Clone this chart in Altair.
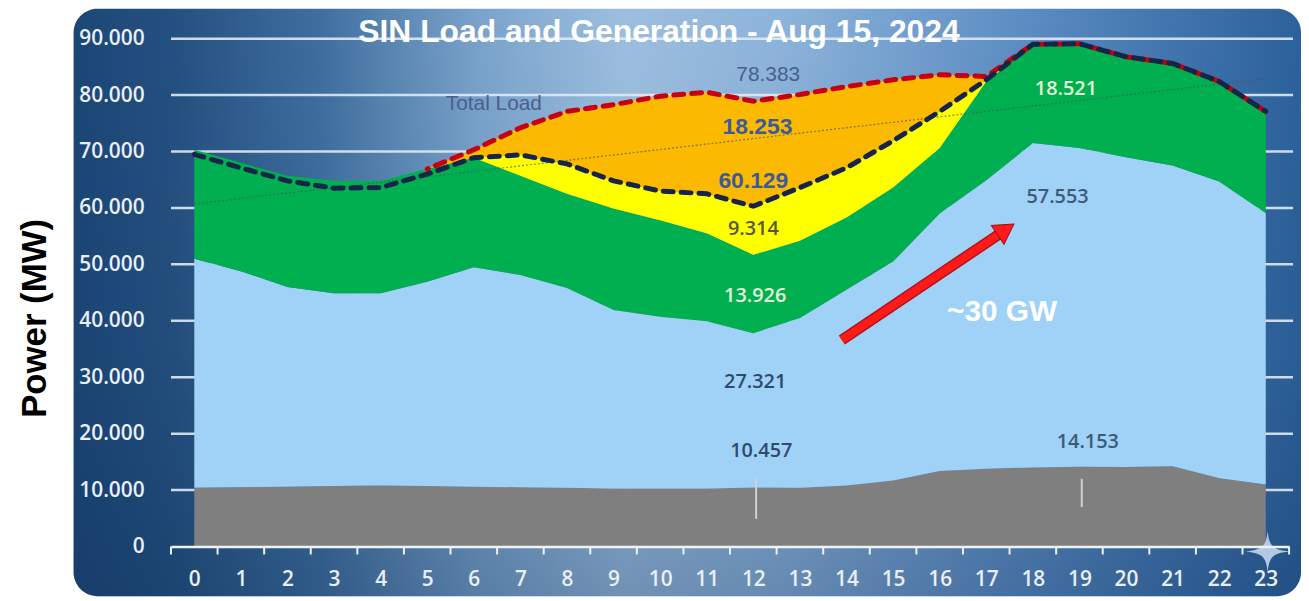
import altair as alt
import pandas as pd

# ---------------- data (MW) ----------------
hours = list(range(24))
gray_top = [10400, 10500, 10600, 10700, 10800, 10700, 10600, 10500, 10400, 10300, 10300, 10300,
            10460, 10400, 10800, 11700, 13400, 13800, 14000, 14150, 14100, 14200, 12100, 11000]
blue_top = [51000, 48800, 46000, 44900, 44900, 46900, 49500, 48100, 45800, 41900, 40700, 39900,
            37800, 40500, 45500, 50500, 59000, 64900, 71500, 70600, 69000, 67500, 64700, 59100]
green_top = [70300, 68000, 65700, 64800, 64800, 66900, 68900, 65700, 62500, 59900, 57800, 55500,
             51700, 54200, 58300, 63600, 70600, 82400, 89000, 89100, 86800, 85600, 82400, 77100]
yellow_top = [70300, 68000, 65700, 64800, 64800, 66900, 68900, 69400, 67800, 64800, 63000, 62500,
              60300, 63600, 67100, 71900, 77100, 82700, 89000, 89100, 86800, 85600, 82400, 77100]
orange_top = [70300, 68000, 65700, 64800, 64800, 66900, 70300, 74200, 77100, 78300, 79800, 80500,
              78900, 80100, 81500, 82700, 83600, 83300, 89000, 89100, 86800, 85600, 82400, 77100]
gen_line = [69500, 67100, 64800, 63500, 63600, 66000, 68900, 69400, 67800, 64800, 63000, 62500,
            60300, 63600, 67100, 71900, 77100, 82700, 89000, 89100, 86800, 85600, 82400, 77100]
load_hours = list(range(5, 24))
load_line = [66900, 70300, 74200, 77100, 78300, 79800, 80500, 78900, 80100, 81500, 82700, 83600,
             83300, 89000, 89100, 86800, 85600, 82400, 77100]
trend_hours = [0, 23]
trend_values = [60700, 82900]

y_ticks = [0, 10000, 20000, 30000, 40000, 50000, 60000, 70000, 80000, 90000]
x_tick_pos = [h - 0.5 for h in range(25)]

series_names = ["Thermal", "Hydro", "Wind", "Solar", "Deficit"]
series_colors = ["#7f7f7f", "#a0d1f7", "#00b050", "#ffff00", "#fbb900"]

title_text = ["SIN Load and Generation - Aug 15, 2024"]

# value labels: text, hour, MW, color
lab_narrow_txt = ["78.383", "Total Load"]
lab_narrow_x = [12.32, 6.43]
lab_narrow_y = [83500, 78500]
lab_bold_txt = ["18.253", "60.129"]
lab_bold_x = [12.09, 12.0]
lab_bold_y = [74300, 64800]
lab_round_txt = ["9.314", "13.926", "27.321", "10.457", "18.521", "57.553", "14.153"]
lab_round_x = [12.0, 12.04, 12.04, 12.17, 18.71, 18.53, 19.18]
lab_round_y = [56200, 44400, 29100, 16900, 81000, 62000, 18500]
lab_round_col = ["#55583a", "#e4f4d8", "#2d4b6b", "#2d4b6b", "#e4f4d8", "#3d5b78", "#3d5b78"]

arrow_x = [13.90, 17.34]
arrow_y = [36600, 55700]
arrow_head_x = [17.42]
arrow_head_y = [56200]
gw_text = ["~30 GW"]
gw_x = [17.34]
gw_y = [41600]

leader_x = [12.06, 19.05]
leader_y1 = [4900, 7000]
leader_y2 = [12300, 12000]

# ---------------- layout ----------------
W, H = 1125, 511
xs = alt.Scale(domain=[-0.5, 23.5], nice=False, zero=False)
ys = alt.Scale(domain=[0, 90000], nice=False, zero=True)

LABEL_FONT = "Open Sans"
NARROW = "Liberation Sans Narrow, Arial Narrow, Liberation Sans"

x_axis = alt.Axis(values=hours, labelFont=LABEL_FONT, labelFontSize=21, labelFontWeight=600,
                  labelColor="#e9eff6", ticks=False, tickSize=0, domain=True,
                  domainColor="#eef3f8", domainWidth=2.5, grid=False, labelPadding=22,
                  title=None, zindex=1, labelFlush=False)
y_axis = alt.Axis(values=y_ticks, labelExpr="replace(format(datum.value, ','), ',', '.')",
                  labelFont=LABEL_FONT, labelFontSize=21, labelFontWeight=600,
                  labelColor="#e9eff6", ticks=False, tickSize=0, domain=False, grid=False,
                  labelPadding=27, title="Power (MW)", titleFont="Liberation Sans",
                  titleFontSize=35, titleFontWeight="bold", titleColor="black",
                  titleAngle=270, titleX=-137, titleY=281, titleAlign="center",
                  titleBaseline="middle", zindex=1, labelFlush=False)

one = pd.DataFrame({"a": [0]})

bg_grad = {"gradient": "linear", "x1": 0, "y1": 0, "x2": 1, "y2": 0,
           "stops": [{"offset": 0.0, "color": "#1c4676"},
                     {"offset": 0.08, "color": "#24507f"},
                     {"offset": 0.2, "color": "#3f6e9e"},
                     {"offset": 0.33, "color": "#7aa3cb"},
                     {"offset": 0.45, "color": "#9dbfdf"},
                     {"offset": 0.58, "color": "#8cb3da"},
                     {"offset": 0.78, "color": "#5a8bc2"},
                     {"offset": 1.0, "color": "#2c619b"}]}
shade_grad = {"gradient": "linear", "x1": 0, "y1": 0, "x2": 0, "y2": 1,
              "stops": [{"offset": 0.0, "color": "rgba(10,40,80,0)"},
                        {"offset": 0.6, "color": "rgba(10,40,80,0.08)"},
                        {"offset": 1.0, "color": "rgba(10,40,80,0.3)"}]}

panel = alt.Chart(one).mark_rect(fill=bg_grad, cornerRadius=24).encode(
    x=alt.value(-98), x2=alt.value(1137), y=alt.value(-30), y2=alt.value(561))
shade = alt.Chart(one).mark_rect(fill=shade_grad, cornerRadius=24).encode(
    x=alt.value(-98), x2=alt.value(1137), y=alt.value(-30), y2=alt.value(561))

grid = alt.Chart(pd.DataFrame({"v": y_ticks[1:]})).mark_rule(
    color="#dfe9f3", strokeWidth=2.5, opacity=0.9).encode(
    y=alt.Y("v:Q", scale=ys, axis=y_axis), x=alt.value(0), x2=alt.value(W + 4))

# stacked bands as explicit bottom/top
rows = []
bottoms = [[0] * 24, gray_top, blue_top, green_top, yellow_top]
tops = [gray_top, blue_top, green_top, yellow_top, orange_top]
for name, lo, hi in zip(series_names, bottoms, tops):
    for h, a, b in zip(hours, lo, hi):
        rows.append({"hour": h, "series": name, "lo": a, "hi": b})
area_df = pd.DataFrame(rows)

areas = alt.Chart(area_df).mark_area(interpolate="linear", opacity=1).encode(
    x=alt.X("hour:Q", scale=xs, axis=x_axis),
    y=alt.Y("hi:Q", scale=ys, stack=None),
    y2="lo:Q",
    color=alt.Color("series:N", scale=alt.Scale(domain=series_names, range=series_colors),
                    legend=None))

ticks = alt.Chart(pd.DataFrame({"t": x_tick_pos})).mark_rule(
    color="#eef3f8", strokeWidth=2).encode(
    x=alt.X("t:Q", scale=xs), y=alt.value(H), y2=alt.value(H + 8))

trend = alt.Chart(pd.DataFrame({"hour": trend_hours, "v": trend_values})).mark_line(
    color="#4a5563", strokeWidth=1.2, strokeDash=[2, 2], opacity=0.7).encode(
    x=alt.X("hour:Q", scale=xs), y=alt.Y("v:Q", scale=ys))

load = alt.Chart(pd.DataFrame({"hour": load_hours, "v": load_line})).mark_line(
    color="#c8000a", strokeWidth=5, strokeDash=[10, 8], strokeDashOffset=9,
    strokeCap="round").encode(
    x=alt.X("hour:Q", scale=xs), y=alt.Y("v:Q", scale=ys))

gen = alt.Chart(pd.DataFrame({"hour": hours, "v": gen_line})).mark_line(
    color="#16244a", strokeWidth=5, strokeDash=[10, 8], strokeCap="round").encode(
    x=alt.X("hour:Q", scale=xs), y=alt.Y("v:Q", scale=ys))

arrow_df = pd.DataFrame({"hour": arrow_x, "v": arrow_y})
arrow_edge = alt.Chart(arrow_df).mark_line(color="#b3121a", strokeWidth=11).encode(
    x=alt.X("hour:Q", scale=xs), y=alt.Y("v:Q", scale=ys))
arrow_body = alt.Chart(arrow_df).mark_line(color="#ff1a1a", strokeWidth=8).encode(
    x=alt.X("hour:Q", scale=xs), y=alt.Y("v:Q", scale=ys))
arrow_head = alt.Chart(pd.DataFrame({"hour": arrow_head_x, "v": arrow_head_y})).mark_point(
    shape="triangle-up", angle=56, size=520, filled=True, fill="#ff1a1a",
    stroke="#9a1020", strokeWidth=1, opacity=1).encode(
    x=alt.X("hour:Q", scale=xs), y=alt.Y("v:Q", scale=ys))

gw = alt.Chart(pd.DataFrame({"t": gw_text, "hour": gw_x, "v": gw_y})).mark_text(
    font="Liberation Sans", fontSize=30, fontWeight="bold", color="white",
    align="center", baseline="middle").encode(
    x=alt.X("hour:Q", scale=xs), y=alt.Y("v:Q", scale=ys), text="t:N")

leaders = alt.Chart(pd.DataFrame({"hour": leader_x, "a": leader_y1, "b": leader_y2})).mark_rule(
    color="#cfd3d6", strokeWidth=2).encode(
    x=alt.X("hour:Q", scale=xs), y=alt.Y("a:Q", scale=ys), y2="b:Q")

t_narrow = alt.Chart(pd.DataFrame({"t": lab_narrow_txt, "hour": lab_narrow_x, "v": lab_narrow_y})).mark_text(
    font=NARROW, fontSize=21, color="#4a5f8c", align="center", baseline="middle").encode(
    x=alt.X("hour:Q", scale=xs), y=alt.Y("v:Q", scale=ys), text="t:N")
t_bold = alt.Chart(pd.DataFrame({"t": lab_bold_txt, "hour": lab_bold_x, "v": lab_bold_y})).mark_text(
    font=NARROW, fontSize=23, fontWeight="bold", color="#3d5a9a", align="center",
    baseline="middle").encode(
    x=alt.X("hour:Q", scale=xs), y=alt.Y("v:Q", scale=ys), text="t:N")
t_round = alt.Chart(pd.DataFrame({"t": lab_round_txt, "hour": lab_round_x, "v": lab_round_y,
                                  "c": lab_round_col})).mark_text(
    font=LABEL_FONT, fontSize=20, fontWeight=600, align="center", baseline="middle").encode(
    x=alt.X("hour:Q", scale=xs), y=alt.Y("v:Q", scale=ys), text="t:N",
    color=alt.Color("c:N", scale=None))

title = alt.Chart(pd.DataFrame({"t": title_text})).mark_text(
    font="Liberation Sans", fontSize=32, fontWeight="bold", color="white",
    align="center", baseline="alphabetic").encode(
    x=alt.value(491), y=alt.value(3), text="t:N")

star_path = ("M0,-1 C0.08,-0.25 0.25,-0.08 1.1,0 C0.25,0.08 0.08,0.25 0,1 "
             "C-0.08,0.25 -0.25,0.08 -1.1,0 C-0.25,-0.08 -0.08,-0.25 0,-1 Z")
star = alt.Chart(pd.DataFrame({"hour": [23.04], "v": [-900]})).mark_point(
    shape=star_path, size=1700, filled=True, fill="#b9d0e8", opacity=0.95, strokeWidth=0).encode(
    x=alt.X("hour:Q", scale=xs), y=alt.Y("v:Q", scale=ys))

chart = alt.layer(
    panel, shade, grid, areas, ticks, trend, load, gen, leaders,
    arrow_edge, arrow_body, arrow_head, gw, t_narrow, t_bold, t_round, title, star
).properties(
    width=W, height=H,
    padding={"left": 164, "top": 29, "right": 12, "bottom": 53},
    autosize="none",
    background="white",
).configure_view(strokeWidth=0)

chart.save("out.html", embed_options={"renderer": "svg", "actions": False})
